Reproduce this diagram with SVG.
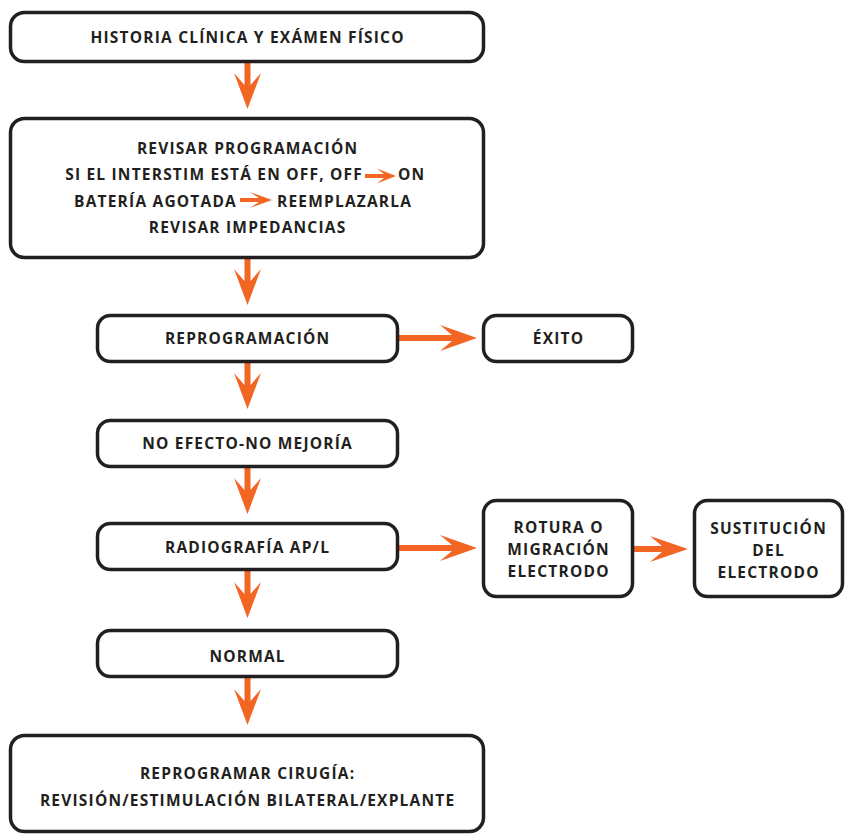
<svg xmlns="http://www.w3.org/2000/svg" width="845" height="835" viewBox="0 0 845 835">
<style>
.box{fill:#fff;stroke:#231f20;stroke-width:3.5}
.t{font-family:"Open Sans",Lato,"Liberation Sans",sans-serif;font-weight:bold;font-size:15.5px;fill:#231f20;text-anchor:middle;letter-spacing:1.2px}
.s{text-anchor:start}
.e{text-anchor:end}
.ar{fill:#f26522}
</style>
<rect width="845" height="835" fill="#fff"/>
<g id="connectors">
<path class="ar" d="M244.5,62 H250.5 V85 L261,73 L247.5,109 L234,73 L244.5,85 Z"/>
<path class="ar" d="M244.5,258 H250.5 V281 L261,269 L247.5,305 L234,269 L244.5,281 Z"/>
<path class="ar" d="M244.5,362 H250.5 V385 L261,373 L247.5,409 L234,373 L244.5,385 Z"/>
<path class="ar" d="M244.5,467 H250.5 V490 L261,478 L247.5,514 L234,478 L244.5,490 Z"/>
<path class="ar" d="M244.5,570 H250.5 V594 L261,582 L247.5,618 L234,582 L244.5,594 Z"/>
<path class="ar" d="M244.5,677 H250.5 V701 L261,689 L247.5,725 L234,689 L244.5,701 Z"/>
<path class="ar" d="M398,335 H452 L440,325 L477,338 L440,351 L452,341 H398 Z"/>
<path class="ar" d="M398,545 H452 L440,535 L477,548 L440,561 L452,551 H398 Z"/>
<path class="ar" d="M633,546 H662 L650,536 L688,549 L650,562 L662,552 H633 Z"/>
</g>
<g id="n1">
<rect class="box" x="10.5" y="12.5" width="473" height="49" rx="14"/>
<text class="t" x="247.6" y="43">HISTORIA CLÍNICA Y EXÁMEN FÍSICO</text>
</g>
<g id="n2">
<rect class="box" x="10.5" y="118.5" width="473" height="139" rx="14"/>
<text class="t" x="247.6" y="153.5">REVISAR PROGRAMACIÓN</text>
<text class="t e" x="363" y="180">SI EL INTERSTIM ESTÁ EN OFF, OFF</text>
<text class="t s" x="398" y="180">ON</text>
<path class="ar" d="M365,174 H384 L377,168.5 L396,176 L377,183.5 L384,178 H365 Z"/>
<text class="t e" x="237" y="206.5">BATERÍA AGOTADA</text>
<path class="ar" d="M240,198 H259 L250,192 L272,200 L250,208 L259,202 H240 Z"/>
<text class="t s" x="277" y="206.5">REEMPLAZARLA</text>
<text class="t" x="247.6" y="233">REVISAR IMPEDANCIAS</text>
</g>
<g id="n3">
<rect class="box" x="97.5" y="315.5" width="300" height="46" rx="13"/>
<text class="t" x="247.6" y="343.5">REPROGRAMACIÓN</text>
</g>
<g id="n4">
<rect class="box" x="483.5" y="315.5" width="149" height="46" rx="13"/>
<text class="t" x="558.6" y="343.5">ÉXITO</text>
</g>
<g id="n5">
<rect class="box" x="97.5" y="420.5" width="300" height="46" rx="13"/>
<text class="t" x="247.6" y="448.5">NO EFECTO-NO MEJORÍA</text>
</g>
<g id="n6">
<rect class="box" x="97.5" y="523.5" width="300" height="46" rx="13"/>
<text class="t" x="247.6" y="552.5">RADIOGRAFÍA AP/L</text>
</g>
<g id="n7">
<rect class="box" x="483.5" y="500.5" width="149" height="96" rx="13"/>
<text class="t" x="558.6" y="532.5">ROTURA O</text>
<text class="t" x="558.6" y="554.5">MIGRACIÓN</text>
<text class="t" x="558.6" y="576.5">ELECTRODO</text>
</g>
<g id="n8">
<rect class="box" x="694.5" y="500.5" width="148" height="96" rx="13"/>
<text class="t" x="768.6" y="533.5">SUSTITUCIÓN</text>
<text class="t" x="768.6" y="555.5">DEL</text>
<text class="t" x="768.6" y="577.5">ELECTRODO</text>
</g>
<g id="n9">
<rect class="box" x="97.5" y="630.5" width="300" height="46" rx="13"/>
<text class="t" x="247.6" y="661.5">NORMAL</text>
</g>
<g id="n10">
<rect class="box" x="10.5" y="735.5" width="473" height="96" rx="14"/>
<text class="t" x="247.6" y="778.5">REPROGRAMAR CIRUGÍA:</text>
<text class="t" x="247.6" y="805.5">REVISIÓN/ESTIMULACIÓN BILATERAL/EXPLANTE</text>
</g>
</svg>
